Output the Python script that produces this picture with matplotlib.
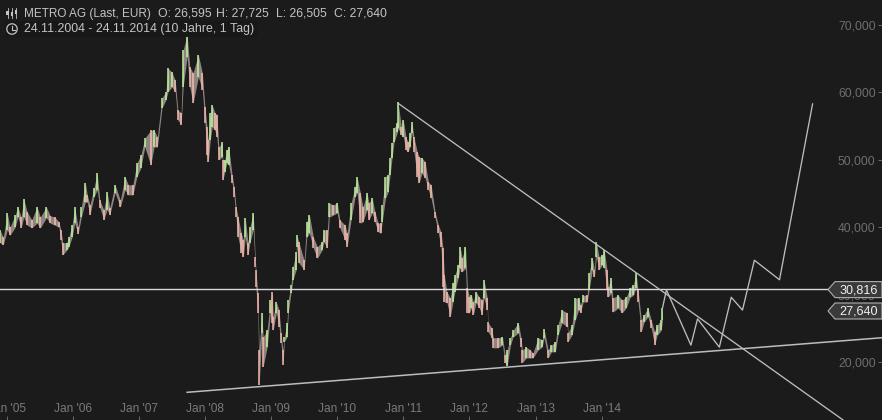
import matplotlib
matplotlib.use("Agg")
import matplotlib.pyplot as plt
import numpy as np
from matplotlib.patches import Polygon, Rectangle
from matplotlib.lines import Line2D
from matplotlib.transforms import IdentityTransform

bar_years = [2004.90,2004.95,2005.01,2005.05,2005.13,2005.17,2005.22,2005.26,2005.31,2005.38,2005.46,2005.51,2005.60,2005.66,2005.73,2005.79,2005.82,2005.85,2005.91,2005.94,2005.99,
 2006.03,2006.08,2006.13,2006.19,2006.22,2006.26,2006.32,2006.37,2006.41,2006.47,2006.52,2006.56,2006.64,2006.72,2006.79,2006.84,2006.91,2006.97,
 2007.03,2007.09,2007.18,2007.23,2007.28,2007.35,2007.41,2007.44,2007.50,2007.55,2007.59,2007.64,2007.67,2007.73,2007.77,2007.82,2007.90,2007.96,
 2008.00,2008.03,2008.05,2008.08,2008.11,2008.15,2008.18,2008.21,2008.26,2008.27,2008.30,2008.33,2008.36,2008.41,2008.44,2008.47,2008.50,2008.55,2008.58,2008.61,2008.65,2008.68,2008.73,2008.76,2008.77,2008.80,2008.82,2008.86,2008.88,2008.94,2008.99,
 2009.02,2009.03,2009.08,2009.12,2009.15,2009.18,2009.20,2009.24,2009.26,2009.30,2009.33,2009.38,2009.39,2009.42,2009.50,2009.54,2009.58,2009.64,2009.70,2009.77,2009.80,2009.85,2009.88,2009.94,
 2010.00,2010.04,2010.12,2010.15,2010.21,2010.27,2010.30,2010.35,2010.39,2010.45,2010.48,2010.53,2010.57,2010.62,2010.66,2010.68,2010.73,2010.77,2010.80,2010.83,2010.86,2010.91,2010.92,2010.97,
 2011.00,2011.04,2011.07,2011.10,2011.13,2011.16,2011.21,2011.24,2011.28,2011.33,2011.38,2011.42,2011.48,2011.53,2011.57,2011.60,2011.62,2011.66,2011.71,2011.75,2011.78,2011.83,2011.86,2011.89,2011.94,2011.97,
 2012.00,2012.03,2012.06,2012.10,2012.15,2012.19,2012.22,2012.27,2012.28,2012.34,2012.36,2012.43,2012.50,2012.54,2012.57,2012.62,2012.66,2012.74,2012.78,2012.80,2012.86,2012.92,2012.96,
 2013.04,2013.10,2013.13,2013.19,2013.24,2013.30,2013.34,2013.40,2013.48,2013.49,2013.55,2013.60,2013.65,2013.68,2013.72,2013.78,2013.81,2013.86,2013.89,2013.92,2013.96,
 2014.01,2014.04,2014.08,2014.10,2014.14,2014.17,2014.25,2014.31,2014.37,2014.43,2014.48,2014.52,2014.55,2014.60,2014.64,2014.70,2014.75,2014.80,2014.84,2014.90,2014.92]
bar_highs = [39.6,38.5,42.1,40.0,41.8,43.0,41.5,44.2,42.3,41.1,43.0,41.5,43.0,41.7,41.5,40.8,39.6,37.7,37.7,38.5,40.3,
 43.0,40.0,43.0,46.6,44.8,43.3,45.8,48.0,44.0,42.6,45.2,42.9,46.3,44.0,47.5,46.3,46.3,49.5,
 50.7,53.2,54.4,54.4,53.4,59.2,60.1,63.6,63.0,61.8,57.4,57.0,66.3,68.5,63.8,62.9,65.6,62.9,
 57.8,54.9,52.9,57.0,58.1,57.0,56.7,51.9,52.6,50.0,50.0,51.5,51.9,47.8,46.0,43.0,41.5,39.1,38.1,41.4,37.7,40.0,42.1,35.6,33.7,30.2,21.8,27.3,23.7,24.7,29.2,
 30.4,26.7,28.9,27.7,24.3,21.8,23.7,25.8,29.2,31.4,34.1,36.3,38.8,37.8,35.1,40.8,41.8,38.5,37.1,37.8,39.6,39.6,43.6,43.3,
 43.6,41.1,40.3,39.1,43.6,46.0,47.5,45.1,43.0,45.1,43.6,44.3,42.3,40.6,40.6,43.3,47.5,47.8,50.3,52.5,54.7,55.5,58.6,54.9,
 55.9,53.4,52.6,54.0,55.6,53.4,51.2,50.4,50.3,49.7,46.7,46.3,42.3,40.3,39.3,36.9,32.9,30.4,29.5,31.7,32.9,34.4,37.1,35.4,37.1,31.0,
 29.6,29.9,28.9,30.4,29.6,29.2,32.2,29.5,25.9,25.0,23.6,23.6,23.7,21.0,21.8,23.6,24.7,25.8,23.6,21.8,22.2,21.8,21.3,
 23.6,23.3,24.9,21.8,22.5,23.0,25.5,27.7,27.3,24.3,25.5,29.5,29.5,28.5,29.9,29.9,33.2,35.4,33.7,37.8,35.6,
 35.9,36.6,33.7,31.1,32.5,29.5,29.9,29.2,29.6,31.0,31.4,33.2,30.7,26.2,27.0,28.0,26.2,24.5,25.5,26.2,28.0]
bar_lows = [37.7,37.4,39.6,38.8,40.0,41.5,39.9,41.5,40.3,39.9,40.6,39.9,41.4,40.6,40.3,40.0,38.1,35.9,36.6,37.1,38.5,
 40.6,39.0,41.5,43.7,43.7,41.8,44.5,45.5,42.9,41.1,42.6,41.8,45.1,43.0,45.5,44.8,44.8,47.5,
 48.8,51.9,49.2,51.9,51.9,57.7,58.9,60.1,60.8,60.1,55.9,55.2,60.8,65.3,60.8,58.4,62.3,60.4,
 55.5,50.7,49.7,52.9,54.9,54.4,53.4,50.0,50.4,47.0,48.2,49.5,49.2,46.6,44.5,41.5,38.5,36.2,35.6,38.5,35.9,37.7,39.6,34.1,31.1,27.3,16.6,24.3,19.3,22.2,27.3,
 25.8,24.7,27.3,25.2,22.8,19.6,23.0,23.7,27.3,30.2,32.2,33.7,37.1,34.7,33.7,38.5,39.1,36.9,35.4,36.6,37.8,36.9,41.5,41.8,
 42.1,39.9,38.1,37.1,41.1,44.5,45.1,40.6,40.8,42.6,41.1,42.1,40.8,39.3,39.1,40.8,44.3,45.2,47.8,50.3,52.6,54.1,54.7,53.7,
 53.4,51.5,51.2,51.9,54.0,51.2,47.5,46.6,48.0,47.3,45.5,44.3,41.4,39.1,37.1,31.1,28.9,28.8,26.7,28.9,30.4,32.5,33.9,33.4,33.9,27.3,
 27.3,28.0,27.0,28.8,28.0,27.0,29.5,27.7,24.5,23.6,22.1,22.1,22.5,19.9,19.4,22.5,23.7,24.3,22.2,19.9,20.6,20.6,20.6,
 21.8,22.2,23.6,20.6,21.5,21.5,24.0,25.8,25.2,23.0,24.0,26.2,27.7,27.3,28.9,28.9,30.7,33.7,32.6,35.6,33.7,
 34.4,33.9,30.7,29.6,30.2,27.4,28.0,27.3,28.0,29.6,29.9,31.0,28.9,24.5,25.9,26.7,25.0,22.5,24.0,24.7,26.2]

resistance_years = [2010.92, 2017.65]
resistance_vals = [58.4, 11.4]
support_years = [2007.73, 2018.24]
support_vals = [15.5, 23.6]
level_value = 30.816
last_close = 27.640
forecast_years = [2014.92,2014.98,2015.35,2015.45,2015.78,2015.96,2016.13,2016.31,2016.69,2017.19]
forecast_vals = [28.0,30.7,22.5,26.4,22.2,29.6,27.7,35.1,32.2,58.3]
y_ticks = [20, 30, 40, 50, 60, 70]
x_ticks = [2005,2006,2007,2008,2009,2010,2011,2012,2013,2014]
x_labels = ["Jan '05","Jan '06","Jan '07","Jan '08","Jan '09","Jan '10","Jan '11","Jan '12","Jan '13","Jan '14"]

BG = '#1b1b1b'
FONT = 'Liberation Sans'
plt.rcParams['font.family'] = FONT

fig = plt.figure(figsize=(8.82, 4.20), dpi=100, facecolor=BG)
ax = fig.add_axes([0, 0, 1, 1], facecolor=BG)
ax.set_xlim(2004.90, 2018.24)
ax.set_ylim(11.39, 73.72)
for s in ax.spines.values():
    s.set_visible(False)

yrs = np.array(bar_years)
hi = np.array(bar_highs)
lo = np.array(bar_lows)
mid = (hi + lo) / 2
up = np.r_[True, np.diff(mid) > 0]

ax.fill_between(yrs, lo, hi, color='#8f8580', lw=0, zorder=2)
ax.vlines(yrs[~up], lo[~up], hi[~up], color='#f6b8ae', lw=1.1, zorder=3)
ax.vlines(yrs[up], lo[up], hi[up], color='#bdf2a0', lw=1.1, zorder=3)

ax.axhline(level_value, xmin=0, xmax=828/882, color='#dcdcdc', lw=1.0, zorder=4)
ax.plot(resistance_years, resistance_vals, color='#bdbdbd', lw=0.95, zorder=4)
ax.plot(support_years, support_vals, color='#bdbdbd', lw=1.1, zorder=4)
ax.plot(forecast_years, forecast_vals, color='#bdbdbd', lw=0.95, zorder=4)

ax.set_yticks(y_ticks)
ax.set_yticklabels([f"{v},000" for v in y_ticks])
ax.yaxis.tick_right()
ax.tick_params(axis='y', direction='in', length=3, width=0.7, color='#6a6a6a',
               labelcolor='#6e6e6e', labelsize=8.8, pad=-4.6)
for t in ax.get_yticklabels():
    t.set_ha('right')
ax.set_xticks(x_ticks)
ax.set_xticklabels(x_labels)
ax.tick_params(axis='x', direction='in', length=3, width=0.7, color='#6a6a6a',
               labelcolor='#7a7a7a', labelsize=8.6, pad=-12.5)

def px(x, y):
    return x / 882, 1 - y / 420

def tag(value, text):
    _, yc = ax.transData.transform((2005, value))
    yc -= 0.5
    h = 8
    pts = [(828, yc), (835, yc + h), (882, yc + h), (882, yc - h), (835, yc - h)]
    ax.add_patch(Polygon(pts, closed=True, transform=IdentityTransform(), facecolor='#3a3a3a',
                         edgecolor='#b0b0b0', lw=0.8, zorder=6, clip_on=False))
    ax.text(878, yc - 0.5, text, transform=IdentityTransform(), color='#f0f0f0', fontsize=9.1,
            ha='right', va='center', zorder=7)

tag(level_value, '30,816')
tag(last_close, '27,640')

fig.patches.append(Rectangle(px(5, 37), 253 / 882, 16 / 420, transform=fig.transFigure,
                             facecolor='#181818', edgecolor='none', zorder=8))
header_parts = ['METRO AG (Last, EUR)', 'O: 26,595', 'H: 27,725', 'L: 26,505', 'C: 27,640']
header_x = [23.5, 157.5, 216.5, 275.5, 334]
for hx, part in zip(header_x, header_parts):
    fig.text(*px(hx, 13.5), part, color='#c4c4c4', fontsize=8.5 if hx < 100 else 8.8,
             va='center', ha='left', zorder=9)
fig.text(*px(23.5, 29), '24.11.2004 - 24.11.2014 (10 Jahre, 1 Tag)',
         color='#c4c4c4', fontsize=8.95, va='center', ha='left', zorder=9)

def fig_line(xs, ys, lw=0.8, c='#c4c4c4'):
    fig.add_artist(Line2D([x / 882 for x in xs], [1 - y / 420 for y in ys], color=c, lw=lw,
                          transform=fig.transFigure, zorder=9))

for x, top, b0, b1, bot in [(7.5, 8, 11, 15, 18), (12, 8, 12, 16, 18), (16, 8, 10, 14, 18)]:
    fig_line([x, x], [top, bot], lw=0.6)
    fig.add_artist(Rectangle(px(x - 1.3, b1), 2.6 / 882, (b1 - b0) / 420, transform=fig.transFigure,
                             facecolor='#c4c4c4', edgecolor='none', zorder=9))

fig.add_artist(Polygon([px(12 + 5.2 * np.cos(a), 29 + 5.2 * np.sin(a)) for a in np.linspace(0, 2 * np.pi, 40)],
                       closed=True, transform=fig.transFigure, fill=False, edgecolor='#c4c4c4', lw=0.9, zorder=9))
fig_line([12, 12, 15], [25.5, 29.5, 29.5], lw=0.8)

fig.savefig('out.png', dpi=100, facecolor=BG)
